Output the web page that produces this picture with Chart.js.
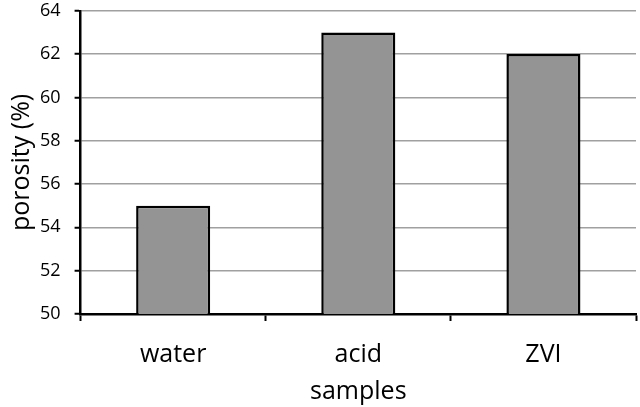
<!DOCTYPE html>
<html>
<head>
<meta charset="utf-8">
<script src="https://cdn.jsdelivr.net/npm/chart.js@4/dist/chart.umd.min.js"></script>
<style>
    html, body { margin: 0; padding: 0; background: #fff; overflow: hidden; }
    #wrap { width: 640px; height: 421px; margin-top: -14px; }
</style>
</head>
<body>
<div id="wrap"><canvas id="porosity-chart"></canvas></div>
<script>
// Porosity per sample treatment
const categories = ['water', 'acid', 'ZVI'];
const porosity = [55, 63, 62];
const yTicks = [50, 52, 54, 56, 58, 60, 62, 64];

const fontFamily = '"Open Sans", sans-serif';

const ctx = document.getElementById('porosity-chart').getContext('2d');

new Chart(ctx, {
    type: 'bar',
    data: {
        labels: categories,
        datasets: [{
            label: 'porosity',
            data: porosity,
            backgroundColor: '#949494',
            borderColor: '#000',
            borderWidth: 2.5,
            borderSkipped: false,
            barPercentage: 0.4,
            categoryPercentage: 1.0
        }]
    },
    options: {
        responsive: true,
        maintainAspectRatio: false,
        animation: false,
        layout: {
            padding: { top: 4, right: 4, left: 7, bottom: 0 }
        },
        plugins: {
            legend: { display: false },
            tooltip: { enabled: false }
        },
        scales: {
            x: {
                offset: true,
                grid: {
                    offset: true,
                    drawOnChartArea: false,
                    drawTicks: true,
                    tickLength: 7,
                    tickColor: '#000',
                    tickWidth: 2
                },
                border: { color: '#000', width: 2.5 },
                ticks: {
                    color: '#000',
                    padding: 19,
                    font: { family: fontFamily, size: 25 }
                },
                title: {
                    display: true,
                    text: 'samples',
                    color: '#000',
                    padding: { top: -12, bottom: 0 },
                    font: { family: fontFamily, size: 25 }
                }
            },
            y: {
                min: 50,
                max: 64,
                afterBuildTicks: (axis) => {
                    axis.ticks = yTicks.map(v => ({ value: v }));
                },
                grid: {
                    color: '#a0a0a0',
                    lineWidth: 1.5,
                    drawTicks: true,
                    tickLength: 6,
                    tickColor: '#000',
                    tickWidth: 2
                },
                border: { color: '#000', width: 2.5 },
                ticks: {
                    color: '#000',
                    padding: 14,
                    font: { family: fontFamily, size: 18 }
                },
                title: {
                    display: true,
                    text: 'porosity (%)',
                    color: '#000',
                    padding: { top: 0, bottom: -11 },
                    font: { family: fontFamily, size: 25 }
                }
            }
        }
    }
});
</script>
</body>
</html>
